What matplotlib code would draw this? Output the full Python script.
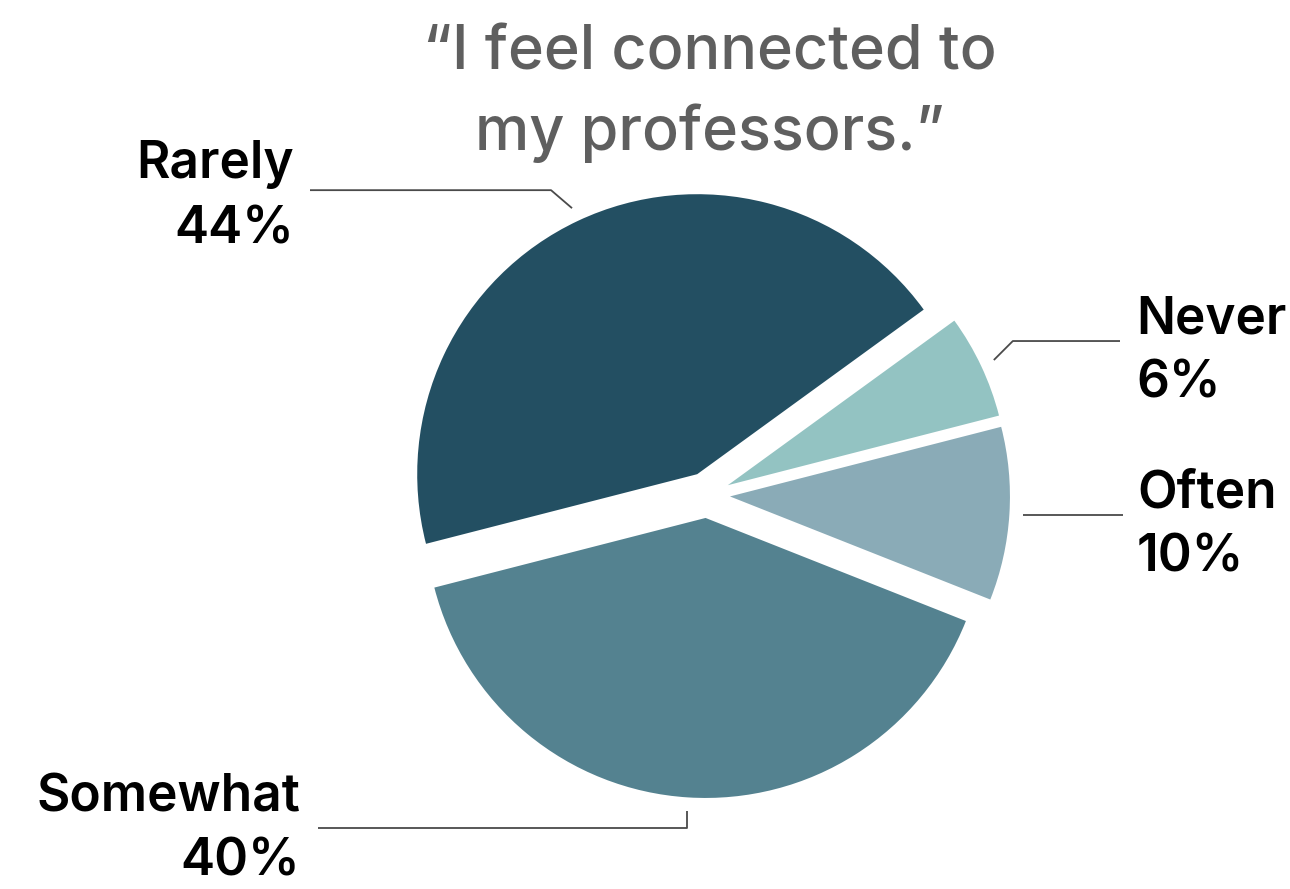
import numpy as np
import matplotlib.pyplot as plt

W, H = 1290, 889

labels = ["Rarely", "Somewhat", "Often", "Never"]
shares = [44, 40, 10, 6]
colors = ["#234f62", "#548290", "#8aabb7", "#93c3c2"]
title_lines = ["\u201cI feel connected to", "my professors.\u201d"]

# label layout in image pixels: text anchor x, baseline y of the name, alignment,
# elbow offset (dx, dy) of the leader line, and where the horizontal part ends
layout = {
    "Rarely":   dict(x=294, y=178, ha="right", elbow=(-21, -18), end=310),
    "Somewhat": dict(x=300, y=811, ha="right", elbow=(0, 17), end=318),
    "Often":    dict(x=1137, y=507, ha="left", elbow=None, end=1123),
    "Never":    dict(x=1136, y=333, ha="left", elbow=(19, -19), end=1120),
}

plt.rcParams["font.family"] = ["Inter", "DejaVu Sans"]

fig = plt.figure(figsize=(W / 100, H / 100), dpi=100)
ax = fig.add_axes([0, 0, 1, 1])

r = 280
wedges, _ = ax.pie(shares, colors=colors, startangle=36, counterclock=True,
                   explode=[23] * 4, center=(707, H - 495), radius=r,
                   wedgeprops=dict(linewidth=0))
ax.set_xlim(0, W)
ax.set_ylim(0, H)
ax.set_aspect("equal")
ax.axis("off")

for w, name, pct in zip(wedges, labels, shares):
    L = layout[name]
    mid = np.deg2rad((w.theta1 + w.theta2) / 2)
    cx, cy = w.center
    x0 = cx + 1.05 * r * np.cos(mid)
    y0 = cy + 1.05 * r * np.sin(mid)
    if L["elbow"] is None:
        xs, ys = [x0, L["end"]], [y0, y0]
    else:
        x1, y1 = x0 + L["elbow"][0], y0 - L["elbow"][1]
        xs, ys = [x0, x1, L["end"]], [y0, y1, y1]
    ax.plot(xs, ys, color="#4a4a4a", lw=1.3, solid_capstyle="butt")
    ax.text(L["x"], H - L["y"], name, ha=L["ha"], va="baseline",
            fontsize=37, fontweight=600, color="black")
    ax.text(L["x"], H - L["y"] - 65, f"{pct}%", ha=L["ha"], va="baseline",
            fontsize=37, fontweight=600, color="black")

for i, line in enumerate(title_lines):
    ax.text(710, H - 70 - 80 * i, line, ha="center", va="baseline",
            fontsize=44, fontweight=500, color="#5f5f5f")

fig.savefig("out.png", dpi=100)
